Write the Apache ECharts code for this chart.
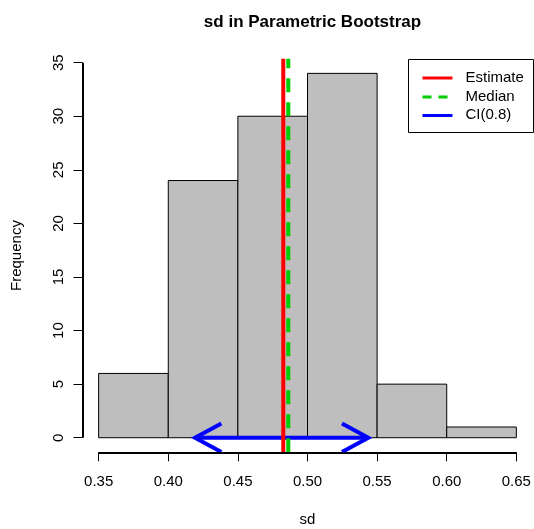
<!DOCTYPE html>
<html>
<head>
<meta charset="utf-8">
<script src="https://cdn.jsdelivr.net/npm/echarts@6/dist/echarts.min.js"></script>
<style>
  html, body { margin: 0; padding: 0; background: #fff; }
  #chart { width: 534px; height: 529px; }
</style>
</head>
<body>
<div id="chart"></div>
<script>
// Histogram of bootstrap sd values
const binEdges = [0.35, 0.40, 0.45, 0.50, 0.55, 0.60, 0.65];
const binCounts = [6, 24, 30, 34, 5, 1];
const xTicks = [0.35, 0.40, 0.45, 0.50, 0.55, 0.60, 0.65];
const yTicks = [0, 5, 10, 15, 20, 25, 30, 35];

// Reference lines and interval
const estimate = 0.4826;
const median = 0.4862;
const ciLower = 0.4192;
const ciUpper = 0.5437;
const ciLevel = 0.8;

// R-style 4% padding around the data range
const xMin = 0.3384, xMax = 0.6616;
const yMin = -1.36, yMax = 35.36;

const FONT = 'Liberation Sans, Arial, sans-serif';

const bins = binCounts.map((c, i) => [binEdges[i], binEdges[i + 1], c]);

const chart = echarts.init(document.getElementById('chart'), null, { renderer: 'canvas' });

function arrowHead(tip, dir, len, ang) {
  // dir: +1 head points right, -1 head points left
  const a = ang * Math.PI / 180;
  const dx = -dir * len * Math.cos(a);
  const dy = len * Math.sin(a);
  return [[tip[0] + dx, tip[1] - dy], tip, [tip[0] + dx, tip[1] + dy]];
}

const option = {
  animation: false,
  backgroundColor: '#ffffff',
  title: {
    text: 'sd in Parametric Bootstrap',
    left: 307.5,
    textAlign: 'center',
    top: 9,
    textStyle: { fontFamily: FONT, fontSize: 17, fontWeight: 'bold', color: '#000' }
  },
  grid: { left: 82.5, right: 1.5, top: 58.8, bottom: 76.7, containLabel: false, outerBoundsMode: 'none' },
  xAxis: {
    type: 'value',
    min: xMin, max: xMax,
    name: 'sd',
    nameLocation: 'middle',
    nameGap: 60,
    nameTextStyle: { fontFamily: FONT, fontSize: 15, color: '#000' },
    splitLine: { show: false },
    axisLine: { show: false, onZero: false },
    axisTick: { show: true, customValues: xTicks, length: 9, lineStyle: { color: '#000', width: 1 } },
    axisLabel: {
      customValues: xTicks,
      margin: 22,
      fontFamily: FONT, fontSize: 15, color: '#000',
      formatter: v => v.toFixed(2)
    }
  },
  yAxis: {
    type: 'value',
    min: yMin, max: yMax,
    name: 'Frequency',
    nameLocation: 'middle',
    nameGap: 58,
    nameRotate: 90,
    nameTextStyle: { fontFamily: FONT, fontSize: 15, color: '#000' },
    splitLine: { show: false },
    axisLine: { show: false, onZero: false },
    axisTick: { show: true, customValues: yTicks, length: 9, lineStyle: { color: '#000', width: 1 } },
    axisLabel: {
      customValues: yTicks,
      rotate: 90,
      margin: 16.5,
      fontFamily: FONT, fontSize: 15, color: '#000'
    }
  },
  series: [
    {
      // histogram bars; axis lines run only across the tick range
      type: 'custom',
      name: 'bins',
      data: bins,
      encode: { x: [0, 1], y: 2 },
      clip: false,
      renderItem: (params, api) => {
        const p0 = api.coord([api.value(0), 0]);
        const p1 = api.coord([api.value(1), api.value(2)]);
        return {
          type: 'rect',
          shape: { x: p0[0], y: p1[1], width: p1[0] - p0[0], height: p0[1] - p1[1] },
          style: { fill: '#BEBEBE', stroke: '#000', lineWidth: 1 }
        };
      },
      markLine: {
        silent: true,
        animation: false,
        symbol: 'none',
        label: { show: false },
        lineStyle: { color: '#000', width: 2, type: 'solid' },
        data: [
          [{ coord: [xTicks[0], yMin] }, { coord: [xTicks[xTicks.length - 1], yMin] }],
          [{ coord: [xMin, yTicks[0]] }, { coord: [xMin, yTicks[yTicks.length - 1]] }]
        ]
      }
    },
    {
      name: 'Estimate',
      type: 'line',
      data: [[estimate, yMin], [estimate, yMax]],
      symbol: 'none', clip: false,
      lineStyle: { color: '#FF0000', width: 4 }
    },
    {
      name: 'Median',
      type: 'line',
      data: [[median, yMin], [median, yMax]],
      symbol: 'none', clip: false,
      lineStyle: { color: '#00CD00', width: 4, type: [14, 10] }
    },
    {
      name: 'CI(' + ciLevel + ')',
      type: 'custom',
      data: [[ciLower, ciUpper, 0]],
      encode: { x: [0, 1], y: 2 },
      clip: false,
      renderItem: (params, api) => {
        const a = api.coord([api.value(0), api.value(2)]);
        const b = api.coord([api.value(1), api.value(2)]);
        const st = { stroke: '#0000FF', lineWidth: 4, fill: null, lineJoin: 'miter' };
        return {
          type: 'group',
          children: [
            { type: 'line', shape: { x1: a[0], y1: a[1], x2: b[0], y2: b[1] }, style: st },
            { type: 'polyline', shape: { points: arrowHead(a, -1, 30, 28.5) }, style: st },
            { type: 'polyline', shape: { points: arrowHead(b, 1, 30, 28.5) }, style: st }
          ]
        };
      }
    }
  ],
  graphic: [
    {
      type: 'group',
      left: 408, top: 59,
      children: [
        { type: 'rect', shape: { x: 0, y: 0, width: 125, height: 73 },
          style: { fill: '#fff', stroke: '#000', lineWidth: 1 } },
        { type: 'line', shape: { x1: 14, y1: 18.5, x2: 44, y2: 18.5 }, style: { stroke: '#FF0000', lineWidth: 3 } },
        { type: 'line', shape: { x1: 14, y1: 37.5, x2: 44, y2: 37.5 }, style: { stroke: '#00CD00', lineWidth: 3, lineDash: [9, 7] } },
        { type: 'line', shape: { x1: 14, y1: 56, x2: 44, y2: 56 }, style: { stroke: '#0000FF', lineWidth: 3 } },
        { type: 'text', x: 57, y: 18, style: { text: 'Estimate', font: '15px ' + FONT, fill: '#000', verticalAlign: 'middle' } },
        { type: 'text', x: 57, y: 37, style: { text: 'Median', font: '15px ' + FONT, fill: '#000', verticalAlign: 'middle' } },
        { type: 'text', x: 57, y: 55.5, style: { text: 'CI(' + ciLevel + ')', font: '15px ' + FONT, fill: '#000', verticalAlign: 'middle' } }
      ]
    }
  ]
};

chart.setOption(option);
</script>
</body>
</html>
